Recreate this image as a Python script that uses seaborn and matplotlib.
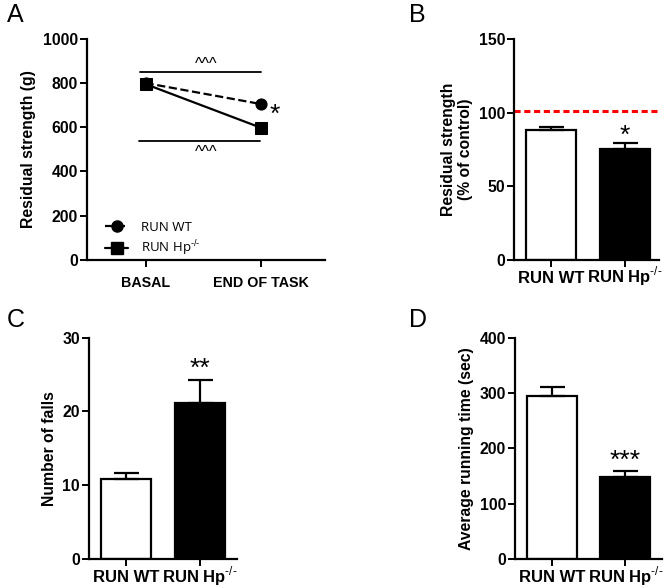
import numpy as np
import pandas as pd
import seaborn as sns
import matplotlib.pyplot as plt
from matplotlib.lines import Line2D

# panel A: residual strength over time
time_points = ['BASAL', 'END OF TASK']
wt_strength = [800, 705]
hp_strength = [795, 598]

# panels B-D: two groups
groups = ['RUN WT', 'RUN Hp$^{\\text{-/-}}$']
pct_control = [88, 75]
pct_control_err = [2.5, 4]
control_level = 101
falls = [10.9, 21.1]
falls_err = [0.7, 3.1]
run_time = [295, 148]
run_time_err = [15, 11]

sns.set_style('ticks')
plt.rcParams['font.family'] = ['Liberation Sans', 'DejaVu Sans']
plt.rcParams['mathtext.fontset'] = 'custom'
plt.rcParams['mathtext.rm'] = 'Liberation Sans'
plt.rcParams['mathtext.bf'] = 'Liberation Sans:bold'
for key in ['text.color', 'axes.labelcolor', 'xtick.color', 'ytick.color', 'axes.edgecolor']:
    plt.rcParams[key] = 'black'

fig = plt.figure(figsize=(6.68, 5.88), dpi=100)
ax_a = fig.add_axes([0.130, 0.558, 0.357, 0.376])
ax_b = fig.add_axes([0.770, 0.558, 0.217, 0.376])
ax_c = fig.add_axes([0.133, 0.049, 0.222, 0.377])
ax_d = fig.add_axes([0.771, 0.049, 0.220, 0.377])


def style_axis(ax, ylabel, yticks, ylim, xsize=12, labelpad=4):
    sns.despine(ax=ax)
    for s in ['left', 'bottom']:
        ax.spines[s].set_linewidth(1.6)
    ax.tick_params(width=1.4, length=5, direction='out')
    ax.tick_params(axis='y', labelsize=11.3, pad=1.5)
    ax.tick_params(axis='x', labelsize=xsize)
    ax.set_ylim(*ylim)
    ax.set_yticks(yticks)
    for lab in ax.get_yticklabels() + ax.get_xticklabels():
        lab.set_fontweight('bold')
    ax.set_ylabel(ylabel, fontsize=11.3, fontweight='bold', labelpad=labelpad)
    ax.set_xlabel('')


# ---- A
df_a = pd.DataFrame({'time': time_points * 2,
                     'value': wt_strength + hp_strength,
                     'group': ['WT'] * 2 + ['HP'] * 2})
sns.lineplot(data=df_a[df_a.group == 'WT'], x='time', y='value', ax=ax_a,
             color='black', linestyle='--', marker='o', markersize=8,
             linewidth=1.6, markeredgecolor='black')
sns.lineplot(data=df_a[df_a.group == 'HP'], x='time', y='value', ax=ax_a,
             color='black', linestyle='-', marker='s', markersize=8,
             linewidth=1.6, markeredgecolor='black')
ax_a.set_xlim(-0.51, 1.56)
ax_a.plot([-0.05, 1.0], [850, 850], color='black', lw=1.3)
ax_a.plot([-0.06, 0.99], [540, 540], color='black', lw=1.3)
ax_a.text(0.53, 918, '^^^', ha='center', va='top', fontsize=11.5)
ax_a.text(0.53, 518, '^^^', ha='center', va='top', fontsize=11.5)
ax_a.text(1.12, 655, '*', ha='center', va='center', fontsize=19)
style_axis(ax_a, 'Residual strength (g)', [0, 200, 400, 600, 800, 1000], (0, 1000),
           xsize=10.3, labelpad=5)
ax_a.tick_params(axis='x', pad=6.5)
handles = [Line2D([], [], color='black', ls='--', marker='o', markersize=8, lw=1.6),
           Line2D([], [], color='black', ls='-', marker='s', markersize=8, lw=1.6)]
ax_a.legend(handles, ['RUN WT', 'RUN Hp$^{\\text{-/-}}$'], loc='center left',
            bbox_to_anchor=(0.076, 0.092), frameon=False, handlelength=1.75,
            borderaxespad=0, borderpad=0, handletextpad=1.0,
            prop={'family': 'Open Sans', 'size': 9.5}, labelspacing=0.35)


def bar_panel(ax, values, errs, ylabel, yticks, ylim, xlim, stars, star_y):
    df = pd.DataFrame({'group': groups, 'value': values})
    sns.barplot(data=df, x='group', y='value', hue='group',
                palette=['white', 'black'], edgecolor='black', linewidth=1.6,
                width=0.68, legend=False, ax=ax)
    ax.errorbar([0, 1], values, yerr=[[0, 0], errs], fmt='none',
                ecolor='black', elinewidth=1.6, capsize=9, capthick=1.6)
    ax.set_xlim(*xlim)
    if stars:
        ax.text(1, star_y, stars, ha='center', va='center', fontsize=19)
    style_axis(ax, ylabel, yticks, ylim)
    ax.tick_params(axis='x', pad=11.5)
    for lab in ax.get_xticklabels():
        lab.set_verticalalignment('baseline')


bar_panel(ax_b, pct_control, pct_control_err, 'Residual strength\n(% of control)',
          [0, 50, 100, 150], (0, 150), (-0.5, 1.47), '*', 84)
ax_b.axhline(control_level, color='red', ls=(0, (2, 1.2)), lw=2.2)
bar_panel(ax_c, falls, falls_err, 'Number of falls',
          [0, 10, 20, 30], (0, 30), (-0.5, 1.5), '**', 25.8)
bar_panel(ax_d, run_time, run_time_err, 'Average running time (sec)',
          [0, 100, 200, 300, 400], (0, 400), (-0.5, 1.5), '***', 178)

# panel letters
for letter, (x, y) in zip('ABCD', [(0.010, 0.974), (0.613, 0.974),
                                  (0.010, 0.455), (0.613, 0.455)]):
    fig.text(x, y, letter, fontsize=18, ha='left', va='center')

fig.savefig('out.png', dpi=100)
